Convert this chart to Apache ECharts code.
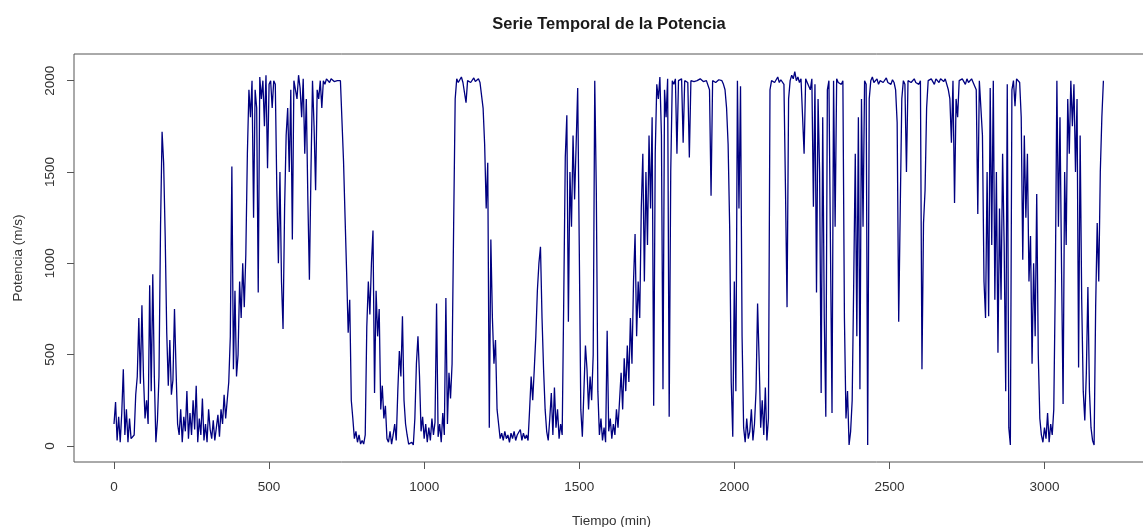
<!DOCTYPE html>
<html>
<head>
<meta charset="utf-8">
<script src="https://cdn.jsdelivr.net/npm/echarts@6/dist/echarts.min.js"></script>
<style>html,body{margin:0;padding:0;background:#fff}#c{width:1143px;height:527px}</style>
</head>
<body>
<div id="c"></div>
<script>
// Sampling step of the series (minutes between successive values)
const STEP = 5;
// Potencia values, t = 0..395
const segA = [120,240,30,160,20,180,420,60,200,20,
 150,40,30,60,280,380,700,340,770,380,
 150,250,120,880,300,940,380,20,140,380,
 1200,1720,1550,1150,620,330,580,280,360,750,
 420,120,60,200,20,160,80,300,40,180,
 60,250,90,330,20,150,60,260,30,120,
 20,200,90,40,140,30,100,170,50,200,
 120,280,150,250,350,600,1530,420,850,380];
// t = 400..795
const segB = [500,900,700,1000,760,1050,1600,1950,1800,2000,
 1250,1950,1850,840,2020,1900,2000,1750,2030,1520,
 1980,2000,1850,2000,1980,1400,1000,1500,900,640,
 1300,1700,1850,1500,1950,1130,2000,2010,1900,2030,
 1960,1800,2010,1600,1900,1350,910,1500,2000,1750,
 1400,1950,1900,2000,1850,2000,1980,2010,2000,1990,
 2010,2000,1995,2005,2000,1995,2000,2000,1560,1250,
 950,620,800,250,150,40,80,20,60,10];
// t = 800..1195
const segC = [30,10,60,650,900,720,1000,1180,290,850,
 600,750,200,330,150,220,40,20,80,10,
 60,120,30,300,520,380,710,250,120,60,
 10,5,20,5,150,450,600,380,80,160,
 40,120,20,100,30,150,60,130,780,50,
 120,20,180,60,810,120,400,260,450,1200,
 1900,2010,1990,2000,2020,1990,2000,1880,2000,2010,
 1990,2000,2015,1995,2000,2010,1990,2000,1850,1650];
// t = 1200..1595
const segD = [1300,1550,100,1130,700,450,580,200,120,40,
 70,30,80,40,60,20,70,40,80,30,
 60,50,90,30,70,40,60,30,200,380,
 250,420,600,850,1000,1090,700,420,200,80,
 30,150,290,60,320,100,200,40,120,60,
 800,1580,1810,680,1500,1200,1700,1350,1650,1960,
 1100,200,50,300,550,420,200,380,250,500,
 2000,1400,300,60,150,30,100,20,630,80];
// t = 1600..1995
const segE = [150,40,120,60,200,100,250,400,200,480,
 300,550,350,700,450,900,1160,600,900,700,
 1300,1600,900,1500,1100,1700,1300,1800,220,1600,
 1980,1900,2020,1700,310,1950,1800,2010,160,1500,
 2000,1980,2010,1600,2000,1990,2010,1660,2000,2010,
 1990,1580,2000,2010,1995,2005,2000,1990,2010,2000,
 1995,2005,2000,1990,1950,1370,2000,2010,1990,2000,
 2005,1995,2000,1980,1950,1850,1650,1200,350,50];
// t = 2000..2395
const segF = [900,300,2000,1300,1970,600,100,20,150,40,
 80,200,30,120,300,780,470,100,250,60,
 320,30,150,1950,2000,2010,1990,2000,2020,1990,
 2005,2000,1980,1400,760,1900,2000,2030,2010,2050,
 2000,2020,1990,2010,2000,1600,2010,1990,2000,1950,
 2010,1310,1980,840,1900,1500,290,1800,700,160,
 1950,2000,1990,180,2000,1200,2010,1990,2000,1980,
 2000,700,150,300,5,80,250,900,1600,600];
// t = 2400..2795
const segG = [1800,310,1900,1200,2000,1980,5,1900,2000,2020,
 1990,2000,2010,1980,2000,2010,1990,2000,2015,1990,
 2000,1980,2005,1990,1950,1770,680,1300,1900,2000,
 1980,1500,2000,2010,1990,2000,2010,1990,2000,1980,
 2000,420,1220,1400,1850,2000,1990,2010,2000,1980,
 2010,2000,1990,2010,2000,1995,2010,2000,1950,1900,
 1660,2000,1330,1900,1800,2000,1990,2010,2000,1980,
 2010,1990,2000,2010,1990,2000,1950,1270,2000,1850];
// t = 2800..3190
const segH = [1700,900,700,1500,710,1960,1100,2000,800,1500,
 510,1300,800,1600,1100,300,1980,100,5,1950,
 2000,1860,2010,2000,1990,1800,1020,1700,1250,1600,
 900,1150,450,1000,600,1380,500,150,60,20,
 100,40,180,20,120,60,200,900,2000,1200,
 1800,980,230,1500,1100,1900,1600,2000,1750,1980,
 1500,1900,430,1700,800,300,140,400,870,300,
 100,30,5,760,1220,900,1500,1800,2000];

const xTicks = [0, 500, 1000, 1500, 2000, 2500, 3000];
const yTicks = [0, 500, 1000, 1500, 2000];

const values = [].concat(segA, segB, segC, segD, segE, segF, segG, segH);
const data = values.map((v, i) => [i * STEP, v]);

const FONT = 'Liberation Sans, Arial, sans-serif';
const plain = v => String(v);
const chart = echarts.init(document.getElementById('c'), null, {renderer: 'canvas'});
chart.setOption({
  animation: false,
  backgroundColor: '#ffffff',
  title: {
    text: 'Serie Temporal de la Potencia',
    left: 609, top: 16, padding: 0, textAlign: 'center',
    textStyle: {fontFamily: FONT, fontSize: 16.5, fontWeight: 'bold', color: '#1a1a1a'}
  },
  grid: {left: 74, right: -6, top: 54, bottom: 65, show: true, borderColor: '#555', borderWidth: 1,
         outerBoundsMode: 'none', containLabel: false},
  xAxis: {
    type: 'value', min: -129, max: 3337,
    name: 'Tiempo (min)', nameLocation: 'middle', nameGap: 52,
    nameTextStyle: {fontFamily: FONT, fontSize: 13.5, color: '#333'},
    axisLine: {show: false, onZero: false},
    axisTick: {show: true, customValues: xTicks, length: 7, lineStyle: {color: '#555'}},
    axisLabel: {customValues: xTicks, formatter: plain, margin: 18, fontFamily: FONT, fontSize: 13.5, color: '#333'},
    splitLine: {show: false}
  },
  yAxis: {
    type: 'value', min: -88, max: 2146,
    name: 'Potencia (m/s)', nameLocation: 'middle', nameGap: 49, nameRotate: 90,
    nameTextStyle: {fontFamily: FONT, fontSize: 13.5, color: '#333'},
    axisLine: {show: false, onZero: false},
    axisTick: {show: true, customValues: yTicks, length: 7, lineStyle: {color: '#555'}},
    axisLabel: {customValues: yTicks, formatter: plain, rotate: 90, margin: 17, fontFamily: FONT, fontSize: 13.5, color: '#333'},
    splitLine: {show: false}
  },
  series: [{
    type: 'line', data: data, showSymbol: false, symbol: 'none',
    lineStyle: {color: '#000080', width: 1.3}, silent: true
  }]
});
</script>
</body>
</html>
